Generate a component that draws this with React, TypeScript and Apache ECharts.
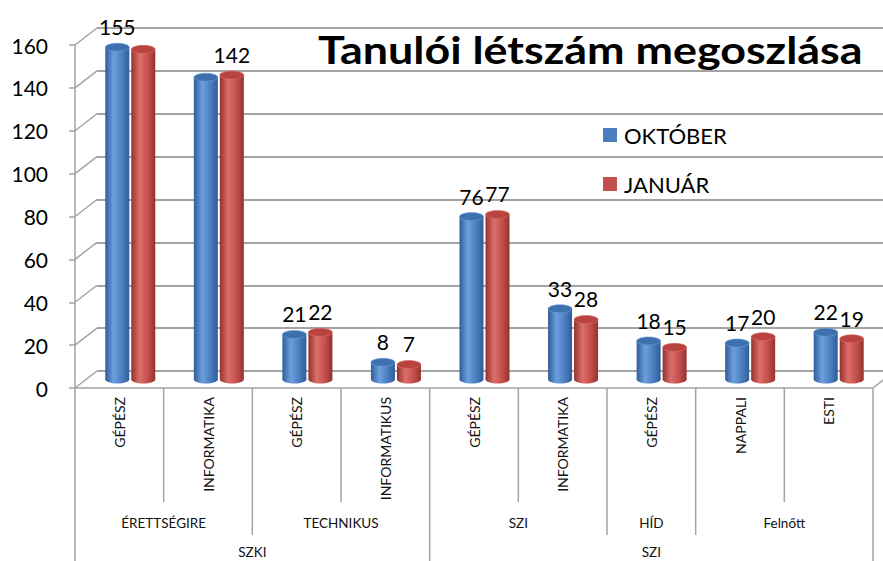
import React, { useEffect, useRef } from "react";
import * as echarts from "echarts";

const categories = ["GÉPÉSZ", "INFORMATIKA", "GÉPÉSZ", "INFORMATIKUS", "GÉPÉSZ", "INFORMATIKA", "GÉPÉSZ", "NAPPALI", "ESTI"];
const level2 = [
  { name: "ÉRETTSÉGIRE", span: 2 },
  { name: "TECHNIKUS", span: 2 },
  { name: "SZI", span: 2 },
  { name: "HÍD", span: 1 },
  { name: "Felnőtt", span: 2 },
];
const level3 = [
  { name: "SZKI", span: 4 },
  { name: "SZI", span: 5 },
];
const oktober = [155, 141, 21, 8, 76, 33, 18, 17, 22];
const januar = [154, 142, 22, 7, 77, 28, 15, 20, 19];
const oktoberLabel = [true, false, true, true, true, true, true, true, true];
const januarLabel = [false, true, true, true, true, true, true, true, true];
const yTicks = [0, 20, 40, 60, 80, 100, 120, 140, 160];
const titleText = "Tanulói létszám megoszlása";

const FONT = "Lato, 'Liberation Sans', sans-serif";
const GRID_W = 798;
const GRID_H = 343;
const DX = 22;
const DY = -17;
const LINE = "#a3a3a3";

function cylinderSeries(name: string, values: number[], shows: boolean[], offset: number, c: any) {
  return {
    name,
    type: "custom",
    xAxisIndex: 2,
    yAxisIndex: 2,
    itemStyle: { color: c.base },
    data: values.map((v, i) => [i, v, shows[i] ? 1 : 0]),
    renderItem: (params: any, api: any) => {
      const idx = api.value(0);
      const val = api.value(1);
      const show = api.value(2);
      const top = api.coord([idx, val]);
      const base = api.coord([idx, 0]);
      const w = 24;
      const ry = 4;
      const cx = top[0] + offset;
      const grad = new echarts.graphic.LinearGradient(0, 0, 1, 0, [
        { offset: 0, color: c.dark },
        { offset: 0.35, color: c.light },
        { offset: 0.7, color: c.base },
        { offset: 1, color: c.dark },
      ]);
      const children: any[] = [
        { type: "ellipse", shape: { cx, cy: base[1], rx: w / 2, ry }, style: { fill: grad } },
        { type: "rect", shape: { x: cx - w / 2, y: top[1], width: w, height: base[1] - top[1] }, style: { fill: grad } },
        { type: "ellipse", shape: { cx, cy: top[1], rx: w / 2, ry }, style: { fill: c.top, stroke: c.light, lineWidth: 0.6 } },
      ];
      if (show) {
        children.push({
          type: "text",
          style: {
            x: cx,
            y: top[1] - 10,
            text: String(val),
            fill: "#000",
            font: `21px ${FONT}`,
            align: "center",
            verticalAlign: "bottom",
          },
        });
      }
      return { type: "group", children };
    },
  };
}

export default function App() {
  const ref = useRef<HTMLDivElement>(null);
  useEffect(() => {
    if (!ref.current) return;
    const chart = echarts.init(ref.current, null, { renderer: "svg" });

    const decor = {
      type: "custom",
      xAxisIndex: 0,
      yAxisIndex: 0,
      silent: true,
      z: 1,
      data: [[0, 0]],
      renderItem: (params: any, api: any) => {
        const n = categories.length;
        const bw = api.size([1, 0])[0];
        const x0 = api.coord([0, 0])[0] - bw / 2;
        const y0 = api.coord([0, 0])[1];
        const xb = (i: number) => x0 + i * bw;
        const ch: any[] = [];
        const line = (x1: number, y1: number, x2: number, y2: number, w = 1.5) =>
          ch.push({ type: "line", shape: { x1, y1, x2, y2 }, style: { stroke: LINE, lineWidth: w } });
        yTicks.forEach((t) => {
          const y = api.coord([0, t])[1];
          line(x0, y, x0 + DX, y + DY, 1.5);
        });
        line(xb(n), y0, xb(n) + DX, y0 + DY, 1.5);
        const l2b = new Set<number>();
        let acc = 0;
        level2.forEach((g) => { l2b.add(acc); acc += g.span; });
        l2b.add(acc);
        const l3b = new Set<number>();
        acc = 0;
        level3.forEach((g) => { l3b.add(acc); acc += g.span; });
        l3b.add(acc);
        for (let i = 0; i <= n; i++) {
          let yEnd = y0 + 114;
          if (l2b.has(i)) yEnd = y0 + 147;
          if (l3b.has(i)) yEnd = 561;
          line(xb(i), y0, xb(i), yEnd, 1.5);
        }
        categories.forEach((c, i) => {
          ch.push({
            type: "text",
            x: xb(i) + bw / 2,
            y: y0 + 9,
            rotation: Math.PI / 2,
            style: { text: c, fill: "#111", font: `14px ${FONT}`, align: "right", verticalAlign: "middle" },
          });
        });
        acc = 0;
        level2.forEach((g) => {
          ch.push({
            type: "text",
            style: { x: xb(acc + g.span / 2), y: y0 + 135, text: g.name, fill: "#111", font: `13.5px ${FONT}`, align: "center", verticalAlign: "middle" },
          });
          acc += g.span;
        });
        acc = 0;
        level3.forEach((g) => {
          ch.push({
            type: "text",
            style: { x: xb(acc + g.span / 2), y: y0 + 164, text: g.name, fill: "#111", font: `13.5px ${FONT}`, align: "center", verticalAlign: "middle" },
          });
          acc += g.span;
        });
        return { type: "group", children: ch };
      },
    };

    const yBase = { type: "value", min: 0, max: 160, interval: 20 };

    chart.setOption({
      animation: false,
      backgroundColor: "#fff",
      textStyle: { fontFamily: FONT },
      graphic: [
        {
          type: "text",
          x: 318,
          y: 30,
          scaleX: 1.18,
          z: 10,
          style: { text: titleText, fill: "#000", font: `bold 38px ${FONT}`, align: "left", verticalAlign: "top" },
        },
      ],
      legend: {
        data: ["OKTÓBER", "JANUÁR"],
        orient: "vertical",
        left: 603,
        top: 124,
        padding: 0,
        icon: "rect",
        itemWidth: 14,
        itemHeight: 14,
        itemGap: 27,
        textStyle: { fontSize: 22, lineHeight: 22, color: "#000", fontFamily: FONT, padding: [0, 0, 0, 2] },
      },
      grid: [
        { left: 75, top: 45, width: GRID_W, height: GRID_H },
        { left: 75 + DX, top: 45 + DY, width: GRID_W, height: GRID_H },
        { left: 75 + DX / 2, top: 45 + DY / 2, width: GRID_W, height: GRID_H },
      ],
      xAxis: [
        { type: "category", gridIndex: 0, data: categories, axisLabel: { show: false }, axisTick: { show: false }, axisLine: { show: true, lineStyle: { color: LINE, width: 1.5 } } },
        { type: "category", gridIndex: 1, data: categories, show: false },
        { type: "category", gridIndex: 2, data: categories, show: false },
      ],
      yAxis: [
        {
          ...yBase,
          gridIndex: 0,
          axisLine: { show: true, lineStyle: { color: LINE, width: 1.5 } },
          axisTick: { show: true, length: 6, lineStyle: { color: LINE, width: 1.5 } },
          axisLabel: { fontSize: 21, color: "#000", margin: 27, fontFamily: FONT },
          splitLine: { show: false },
        },
        {
          ...yBase,
          gridIndex: 1,
          axisLine: { show: false },
          axisTick: { show: false },
          axisLabel: { show: false },
          splitLine: { show: true, lineStyle: { color: LINE, width: 2 } },
        },
        { ...yBase, gridIndex: 2, show: false },
      ],
      series: [
        decor,
        cylinderSeries("OKTÓBER", oktober, oktoberLabel, -13, { base: "#4a7ebf", light: "#6c9fdd", dark: "#2f5d99", top: "#3e70b0" }),
        cylinderSeries("JANUÁR", januar, januarLabel, 13, { base: "#c24f4c", light: "#dc6e6a", dark: "#93322f", top: "#b9433f" }),
      ],
    });
    return () => chart.dispose();
  }, []);
  return <div ref={ref} style={{ position: "fixed", left: 0, top: 0, width: 883, height: 561 }} />;
}
